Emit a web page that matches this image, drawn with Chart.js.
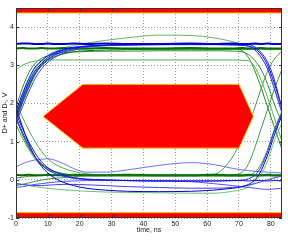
<!DOCTYPE html>
<html>
<head>
<meta charset="utf-8">
<script src="https://cdn.jsdelivr.net/npm/chart.js@4"></script>
<style>
  body { margin: 0; background: #fff; }
</style>
</head>
<body>
<canvas id="eye" width="288" height="240"></canvas>
<script>
// sample times (ns) shared by all traces
const time = [0, 2, 4, 6, 8, 10, 12, 15, 18, 22, 28, 35, 45, 55, 62, 68, 71, 73, 75, 77, 79, 81, 83.5];

// D+ traces (blue)
const blue1 = [3.56, 3.57, 3.57, 3.56, 3.56, 3.57, 3.56, 3.56, 3.57, 3.56, 3.57, 3.56, 3.56, 3.57, 3.56, 3.57, 3.56, 3.56, 3.57, 3.56, 3.57, 3.56, 3.56];
const blue2 = [1.7, 2.15, 2.55, 2.85, 3.05, 3.2, 3.3, 3.4, 3.46, 3.5, 3.53, 3.55, 3.56, 3.56, 3.57, 3.56, 3.56, 3.57, 3.56, 3.56, 3.57, 3.56, 3.56];
const blue3 = [1.6, 2.05, 2.45, 2.78, 3.0, 3.15, 3.26, 3.37, 3.44, 3.49, 3.52, 3.54, 3.55, 3.55, 3.55, 3.55, 3.55, 3.54, 3.48, 3.33, 3.08, 2.65, 1.85];
const blue4 = [1.5, 1.9, 2.3, 2.65, 2.9, 3.08, 3.2, 3.32, 3.4, 3.47, 3.51, 3.53, 3.54, 3.55, 3.55, 3.55, 3.54, 3.5, 3.4, 3.2, 2.9, 2.4, 1.75];
const blue5 = [1.8, 2.25, 2.65, 2.95, 3.12, 3.25, 3.33, 3.42, 3.47, 3.5, 3.52, 3.53, 3.54, 3.54, 3.54, 3.53, 3.52, 3.5, 3.44, 3.28, 3.0, 2.55, 1.9];
const blue6 = [1.75, 1.35, 1.0, 0.7, 0.47, 0.32, 0.22, 0.12, 0.06, 0.02, 0.0, -0.02, -0.03, -0.03, -0.03, -0.02, -0.02, -0.03, -0.02, -0.02, -0.03, -0.02, -0.03];
const blue7 = [1.65, 1.25, 0.9, 0.6, 0.4, 0.26, 0.17, 0.09, 0.04, 0.01, -0.01, -0.02, -0.03, -0.03, -0.03, -0.02, -0.01, 0.03, 0.12, 0.35, 0.75, 1.25, 1.75];
const blue8 = [1.9, 1.4, 0.95, 0.6, 0.35, 0.18, 0.05, -0.07, -0.15, -0.22, -0.27, -0.3, -0.31, -0.3, -0.27, -0.22, -0.18, -0.12, 0.0, 0.25, 0.65, 1.15, 1.7];
const blue9 = [-0.2, -0.18, -0.15, -0.12, -0.1, -0.08, -0.06, -0.04, -0.03, -0.02, -0.02, -0.02, -0.03, -0.05, -0.1, -0.15, -0.18, -0.2, -0.22, -0.24, -0.25, -0.24, -0.22];
const blue10 = [0.34, 0.42, 0.48, 0.52, 0.54, 0.55, 0.52, 0.42, 0.3, 0.2, 0.2, 0.26, 0.38, 0.45, 0.4, 0.3, 0.26, 0.24, 0.22, 0.21, 0.2, 0.19, 0.18];
const blue11 = [-0.1, -0.12, -0.14, -0.15, -0.15, -0.14, -0.13, -0.12, -0.12, -0.13, -0.15, -0.18, -0.2, -0.22, -0.22, -0.2, -0.17, -0.14, -0.1, -0.05, 0.0, 0.05, 0.1];

// D- traces (green)
const green1 = [3.44, 3.45, 3.44, 3.44, 3.45, 3.44, 3.44, 3.45, 3.44, 3.44, 3.45, 3.44, 3.44, 3.45, 3.44, 3.44, 3.45, 3.44, 3.44, 3.45, 3.44, 3.44, 3.44];
const green2 = [2.88, 3.0, 3.07, 3.11, 3.13, 3.14, 3.14, 3.14, 3.14, 3.14, 3.14, 3.14, 3.14, 3.14, 3.14, 3.14, 3.13, 3.12, 2.95, 2.6, 2.15, 1.65, 1.0];
const green3 = [1.7, 2.2, 2.6, 2.9, 3.1, 3.25, 3.35, 3.45, 3.52, 3.58, 3.65, 3.72, 3.79, 3.78, 3.72, 3.62, 3.55, 3.5, 3.4, 3.2, 2.9, 2.45, 1.8];
const green4 = [1.55, 2.0, 2.4, 2.75, 2.98, 3.12, 3.22, 3.3, 3.35, 3.38, 3.4, 3.41, 3.42, 3.42, 3.42, 3.42, 3.42, 3.42, 3.42, 3.42, 3.42, 3.42, 3.42];
const green5 = [1.9, 2.4, 2.8, 3.05, 3.18, 3.25, 3.3, 3.33, 3.35, 3.36, 3.37, 3.37, 3.38, 3.38, 3.38, 3.37, 3.35, 3.28, 3.12, 2.88, 2.5, 2.0, 1.5];
const green6 = [1.6, 1.2, 0.85, 0.6, 0.42, 0.3, 0.22, 0.16, 0.13, 0.12, 0.12, 0.12, 0.12, 0.12, 0.12, 0.12, 0.12, 0.12, 0.12, 0.12, 0.12, 0.12, 0.12];
const green7 = [0.13, 0.12, 0.13, 0.12, 0.12, 0.13, 0.12, 0.12, 0.13, 0.12, 0.12, 0.13, 0.12, 0.12, 0.13, 0.12, 0.12, 0.13, 0.12, 0.12, 0.13, 0.12, 0.12];
const green8 = [1.45, 1.1, 0.8, 0.55, 0.38, 0.27, 0.2, 0.15, 0.13, 0.12, 0.12, 0.12, 0.12, 0.12, 0.14, 0.6, 1.1, 1.45, 1.9, 2.4, 2.85, 3.15, 3.38];
const green9 = [0.05, 0.07, 0.09, 0.1, 0.11, 0.12, 0.12, 0.12, 0.12, 0.12, 0.12, 0.12, 0.12, 0.12, 0.12, 0.13, 0.2, 0.42, 0.85, 1.35, 1.85, 2.35, 2.9];
const green10 = [-0.15, -0.12, -0.08, -0.04, -0.01, 0.02, 0.04, 0.06, 0.08, 0.1, 0.1, 0.1, 0.1, 0.1, 0.1, 0.1, 0.1, 0.12, 0.2, 0.42, 0.8, 1.3, 1.8];
const green11 = [2.0, 1.65, 1.3, 1.0, 0.75, 0.55, 0.42, 0.3, 0.22, 0.16, 0.12, 0.1, 0.1, 0.1, 0.1, 0.1, 0.1, 0.1, 0.1, 0.1, 0.1, 0.1, 0.1];
const green12 = [-0.1, -0.12, -0.15, -0.18, -0.2, -0.22, -0.24, -0.26, -0.28, -0.3, -0.32, -0.33, -0.34, -0.35, -0.35, -0.3, -0.25, -0.18, -0.05, 0.15, 0.5, 1.0, 1.5];
const green13 = [1.65, 2.1, 2.5, 2.8, 3.02, 3.16, 3.26, 3.35, 3.4, 3.43, 3.44, 3.44, 3.44, 3.44, 3.44, 3.44, 3.38, 3.2, 2.85, 2.4, 1.9, 1.4, 0.8];

// mask polygons (time, volts)
const hexTime = [8.5, 21, 70, 74.5, 70, 21, 8.5];
const hexVolt = [1.66, 2.5, 2.5, 1.66, 0.83, 0.83, 1.66];
const topTime = [0, 83.5, 83.5, 0, 0];
const topVolt = [4.5, 4.5, 4.37, 4.37, 4.5];
const botTime = [0, 83.5, 83.5, 0, 0];
const botVolt = [-1, -1, -0.86, -0.86, -1];

const xTicks = [0, 10, 20, 30, 40, 50, 60, 70, 80];
const yTicks = [-1, 0, 1, 2, 3, 4];

const pts = (xs, ys) => xs.map((x, i) => ({ x: x, y: ys[i] }));

const blueSet = [blue1, blue2, blue3, blue4, blue5, blue6, blue7, blue8, blue9, blue10, blue11];
const greenSet = [green1, green2, green3, green4, green5, green6, green7, green8, green9, green10, green11, green12, green13];
const blueCols = ['#0000c8', '#0010e0', '#2020f0', '#3a3af0', '#0000ff', '#1010d8', '#2828e8', '#0000d0', '#5050f0', '#7070f0', '#4040e8'];
const greenCols = ['#007000', '#50b050', '#60b860', '#008000', '#2e8b2e', '#107a10', '#006a00', '#40a040', '#3c9c3c', '#3a9a3a', '#50a850', '#70c070', '#208a20'];

const traces = [];
greenSet.forEach((v, i) => traces.push({
  data: pts(time, v), borderColor: greenCols[i], borderWidth: (i === 0 || i === 6) ? 2 : 1,
  order: 2
}));
blueSet.forEach((v, i) => traces.push({
  data: pts(time, v), borderColor: blueCols[i], borderWidth: i === 0 ? 2 : 1,
  order: 1
}));
traces.forEach(d => {
  d.showLine = true; d.pointRadius = 0; d.cubicInterpolationMode = 'monotone'; d.fill = false;
});

const masks = [
  { data: pts(hexTime, hexVolt) },
  { data: pts(topTime, topVolt) },
  { data: pts(botTime, botVolt) },
].map(d => Object.assign(d, {
  showLine: true, pointRadius: 0, tension: 0, fill: 'shape',
  backgroundColor: '#ff0000', borderColor: '#f2c200', borderWidth: 1, order: 0
}));

// inner tick marks and box frame, MATLAB style
const framePlugin = {
  id: 'frame',
  afterDatasetsDraw(chart) {
    const { ctx, chartArea: a, scales } = chart;
    ctx.save();
    ctx.strokeStyle = '#333';
    ctx.lineWidth = 1;
    ctx.beginPath();
    xTicks.forEach(t => {
      const x = Math.round(scales.x.getPixelForValue(t)) + 0.5;
      ctx.moveTo(x, a.bottom); ctx.lineTo(x, a.bottom - 3);
      ctx.moveTo(x, a.top); ctx.lineTo(x, a.top + 3);
    });
    yTicks.forEach(t => {
      const y = Math.round(scales.y.getPixelForValue(t)) + 0.5;
      ctx.moveTo(a.left, y); ctx.lineTo(a.left + 3, y);
      ctx.moveTo(a.right, y); ctx.lineTo(a.right - 3, y);
    });
    ctx.stroke();
    ctx.strokeRect(Math.round(a.left) + 0.5, Math.round(a.top) + 0.5,
      Math.round(a.right - a.left) - 1, Math.round(a.bottom - a.top) - 1);
    ctx.restore();
  }
};

const tickFont = { family: 'Liberation Sans', size: 7 };

new Chart(document.getElementById('eye'), {
  type: 'scatter',
  data: { datasets: masks.concat(traces) },
  options: {
    responsive: false,
    animation: false,
    devicePixelRatio: 1,
    layout: { padding: { top: 8, right: 6, left: 0, bottom: 0 } },
    plugins: { legend: { display: false }, tooltip: { enabled: false } },
    scales: {
      x: {
        type: 'linear', min: 0, max: 83.5,
        afterBuildTicks: s => { s.ticks = xTicks.map(v => ({ value: v })); },
        afterFit: s => { s.height = 22; },
        grid: { color: '#9a9a9a', lineWidth: 1, drawTicks: false },
        border: { display: false, dash: [1, 2] },
        ticks: { font: tickFont, color: '#222', padding: 2, maxRotation: 0 },
        title: { display: true, text: 'time, ns', font: tickFont, color: '#222', padding: { top: 0, bottom: 5.5 } }
      },
      y: {
        type: 'linear', min: -1, max: 4.5,
        afterBuildTicks: s => { s.ticks = yTicks.map(v => ({ value: v })); },
        afterFit: s => { s.width = 16; },
        grid: { color: '#9a9a9a', lineWidth: 1, drawTicks: false },
        border: { display: false, dash: [1, 2] },
        ticks: { font: tickFont, color: '#222', padding: 2 },
        title: { display: true, text: 'D+ and D-, V', font: tickFont, color: '#222', padding: { top: 1, bottom: 0 } }
      }
    }
  },
  plugins: [framePlugin]
});
</script>
</body>
</html>
